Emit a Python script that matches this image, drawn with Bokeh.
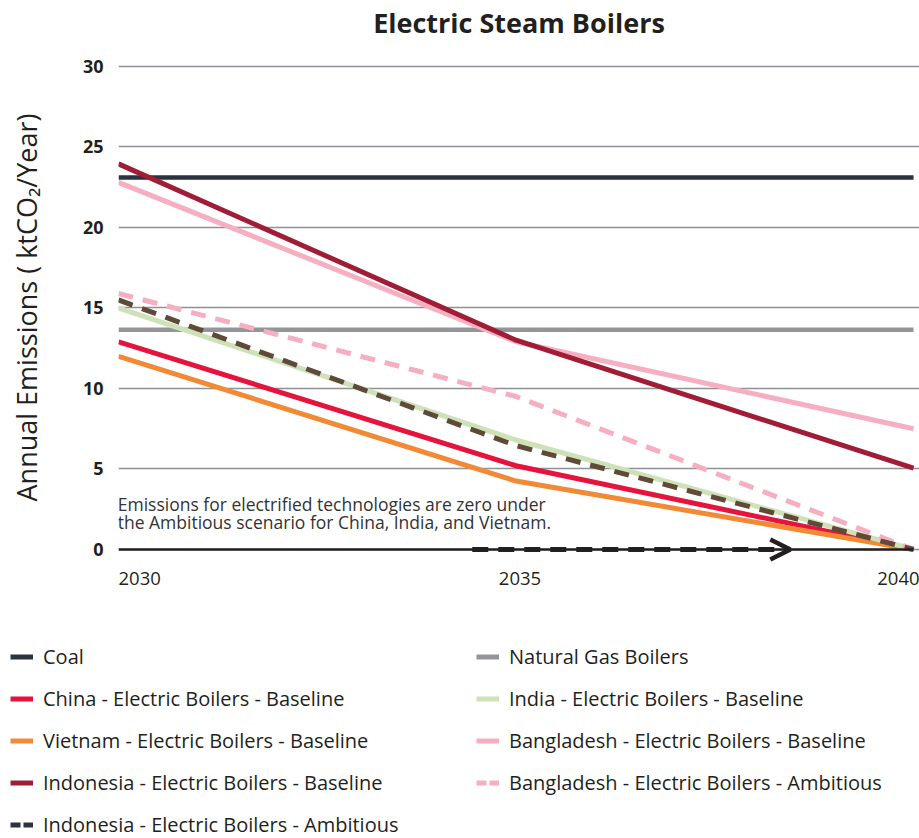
from bokeh.plotting import figure
from bokeh.layouts import column
from bokeh.models import Legend, LegendItem, Label, Arrow, OpenHead, Range1d, FixedTicker
from bokeh.embed import file_html
from bokeh.resources import INLINE

# ---- data ----
years = [2030, 2035, 2040]
coal = [23.1, 23.1, 23.1]
natural_gas = [13.65, 13.65, 13.65]
china_baseline = [12.9, 5.2, 0.0]
india_baseline = [15.0, 6.8, 0.0]
vietnam_baseline = [12.0, 4.25, 0.0]
bangladesh_baseline = [22.8, 12.9, 7.5]
indonesia_baseline = [23.95, 13.0, 5.05]
bangladesh_ambitious = [15.9, 9.5, 0.0]
indonesia_ambitious = [15.5, 6.45, 0.0]
zero_years = [2030, 2040]
zero_values = [0, 0]
arrow_years = [2034.45, 2038.45]
y_ticks = [0, 5, 10, 15, 20, 25, 30]
x_tick_labels = ["2030", "2035", "2040"]
title_text = "Electric Steam Boilers"
note_lines = ["Emissions for electrified technologies are zero under",
              "the Ambitious scenario for China, India, and Vietnam."]

FONT = "Open Sans"
TXT = "#231f20"

X0, X1 = 2030, 2040.075
p = figure(width=919, height=614, x_range=Range1d(X0, X1), y_range=Range1d(-4.04, 34.1),
           output_backend="svg", toolbar_location=None,
           min_border_left=118, min_border_right=0, min_border_top=0, min_border_bottom=0)
p.frame_align = False
p.outline_line_color = None
p.background_fill_color = "white"
p.border_fill_color = "white"

p.xaxis.visible = False
p.xgrid.visible = False

p.yaxis.ticker = FixedTicker(ticks=y_ticks)
p.yaxis.axis_line_color = None
p.yaxis.major_tick_line_color = None
p.yaxis.minor_tick_line_color = None
p.yaxis.major_label_standoff = 9
p.yaxis.major_label_text_font = FONT
p.yaxis.major_label_text_font_size = "18px"
p.yaxis.major_label_text_font_style = "bold"
p.yaxis.major_label_text_color = TXT
p.yaxis.axis_label = "Annual Emissions ( ktCO\u2082/Year)"
p.yaxis.axis_label_text_font = FONT
p.yaxis.axis_label_text_font_size = "27px"
p.yaxis.axis_label_text_font_style = "normal"
p.yaxis.axis_label_text_color = TXT
p.yaxis.axis_label_standoff = 35

p.ygrid.ticker = FixedTicker(ticks=y_ticks)
p.ygrid.grid_line_color = "#8e9195"
p.ygrid.grid_line_width = 1.5

# title (drawn inside the extended frame so its position is exact)
p.add_layout(Label(x=(X0 + X1) / 2, y=32.73, text=title_text, text_font=FONT, text_font_size="27px",
                   text_font_style="bold", text_color=TXT, text_align="center", text_baseline="middle"))

# ---- lines ----
p.line(years, coal, line_color="#2b333e", line_width=4.5)
p.line(years, natural_gas, line_color="#939598", line_width=4.5)
p.line(years, china_baseline, line_color="#e6133d", line_width=5)
p.line(years, vietnam_baseline, line_color="#f28a35", line_width=5)
p.line(years, india_baseline, line_color="#cfe1b8", line_width=5)
p.line(years, bangladesh_baseline, line_color="#f6afc0", line_width=5)
p.line(years, indonesia_baseline, line_color="#a11d37", line_width=5)
p.line(years, bangladesh_ambitious, line_color="#f6afc0", line_width=5, line_dash="15 10")
p.line(years, indonesia_ambitious, line_color="#5f4a37", line_width=5, line_dash="15 10")

# zero line and arrow
p.line(zero_years, zero_values, line_color=TXT, line_width=2.5)
p.add_layout(Arrow(end=OpenHead(size=20, line_width=4.5, line_color=TXT),
                   x_start=arrow_years[0], y_start=0, x_end=arrow_years[1], y_end=0,
                   line_color=TXT, line_width=5, line_dash="16 10"))

# note
for i, t in enumerate(note_lines):
    p.add_layout(Label(x=2029.99, y=2.85 - 1.12 * i, text=t, text_font=FONT, text_font_size="17.5px",
                       text_color="#333333", text_baseline="middle", text_align="left"))

# x tick labels
aligns = ["left", "center", "right"]
offsets = [0, 4, 6]
for yr, lab, al, off in zip(years, x_tick_labels, aligns, offsets):
    p.add_layout(Label(x=yr, y=-1.8, text=lab, text_font=FONT, text_font_size="18.5px",
                       text_color=TXT, text_baseline="middle", text_align=al, x_offset=off))

# ---- legend panel ----
p2 = figure(width=919, height=224, x_range=Range1d(0, 1), y_range=Range1d(0, 1),
            x_axis_type=None, y_axis_type=None,
            output_backend="svg", toolbar_location=None,
            min_border_left=0, min_border_right=0, min_border_top=0, min_border_bottom=0)
p2.frame_align = False
p2.grid.visible = False
p2.outline_line_color = None

# order: column-major so the two columns read row by row as in the reference
legend_specs = [
    ("Coal", coal, "#2b333e", "solid"),
    ("China - Electric Boilers - Baseline", china_baseline, "#e6133d", "solid"),
    ("Vietnam - Electric Boilers - Baseline", vietnam_baseline, "#f28a35", "solid"),
    ("Indonesia - Electric Boilers - Baseline", indonesia_baseline, "#a11d37", "solid"),
    ("Indonesia - Electric Boilers - Ambitious", indonesia_ambitious, "#2b333e", "10 3"),
    ("Natural Gas Boilers", natural_gas, "#939598", "solid"),
    ("India - Electric Boilers - Baseline", india_baseline, "#cfe1b8", "solid"),
    ("Bangladesh - Electric Boilers - Baseline", bangladesh_baseline, "#f6afc0", "solid"),
    ("Bangladesh - Electric Boilers - Ambitious", bangladesh_ambitious, "#f6afc0", "10 3"),
]
items = []
for lab, series, col, dash in legend_specs:
    r = p2.line(years, series, line_color=col, line_width=5, line_dash=dash)
    items.append(LegendItem(label=lab, renderers=[r]))

legend = Legend(items=items, location=(10, 0), ncols=2,
                glyph_width=23, glyph_height=27, label_height=27, label_width=418,
                label_standoff=10, spacing=15, padding=0, margin=0,
                label_text_font=FONT, label_text_font_size="20px", label_text_color=TXT,
                border_line_color=None, background_fill_alpha=0)
p2.add_layout(legend, "center")

open("out.html", "w").write(file_html(column(p, p2), INLINE))
